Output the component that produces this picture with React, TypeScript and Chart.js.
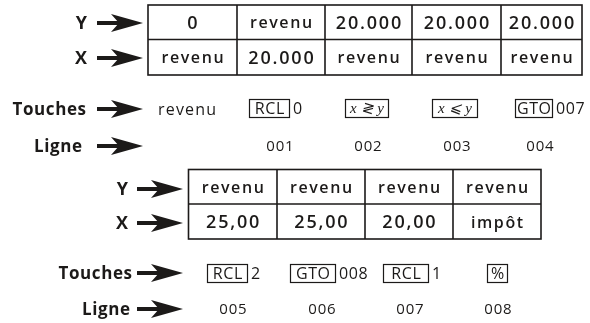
import React, { useEffect, useRef } from "react";
import { Chart, registerables } from "chart.js";

Chart.register(...registerables);

// ---- data ----
const stackY1 = ["0", "revenu", "20.000", "20.000", "20.000"];
const stackX1 = ["revenu", "20.000", "revenu", "revenu", "revenu"];
const touchesKeys1 = ["RCL", "x ≷ y", "x ⩽ y", "GTO"];
const touchesArgs1 = ["0", "", "", "007"];
const touchesStart1 = "revenu";
const lignes1 = ["001", "002", "003", "004"];

const stackY2 = ["revenu", "revenu", "revenu", "revenu"];
const stackX2 = ["25,00", "25,00", "20,00", "impôt"];
const touchesKeys2 = ["RCL", "GTO", "RCL", "%"];
const touchesArgs2 = ["2", "008", "1", ""];
const lignes2 = ["005", "006", "007", "008"];

const rowLabels = ["Y", "X", "Touches", "Ligne"];

// ---- layout (pixel units of the hidden linear scales) ----
const W = 590;
const H = 323;
const INK = "#1c1a19";
const SANS = "'Open Sans', 'Noto Sans', sans-serif";

type Block = {
  labelRight: number[];
  rowY: number[];
  arrowFrom: number;
  arrowTo: number;
  cols: number[];
  tableTop: number;
  tableMid: number;
  tableBottom: number;
  keyBoxes: [number, number][];
  keyTop: number;
  keyBottom: number;
  ligneX: number[];
};

const block1: Block = {
  labelRight: [87, 87, 86, 82],
  rowY: [23, 58, 109, 146],
  arrowFrom: 97,
  arrowTo: 143,
  cols: [148, 237, 325, 412, 501, 582],
  tableTop: 5,
  tableMid: 39.5,
  tableBottom: 75,
  keyBoxes: [
    [249, 289],
    [345, 388],
    [432, 477],
    [515, 552],
  ],
  keyTop: 99.5,
  keyBottom: 117.5,
  ligneX: [280, 368, 457, 540],
};

const block2: Block = {
  labelRight: [128, 128, 132, 130],
  rowY: [189, 223, 273, 309],
  arrowFrom: 137,
  arrowTo: 183,
  cols: [188.5, 277, 365, 453, 541],
  tableTop: 169.5,
  tableMid: 204,
  tableBottom: 239,
  keyBoxes: [
    [207, 247],
    [290, 335],
    [383, 428],
    [487, 507],
  ],
  keyTop: 264.5,
  keyBottom: 282.5,
  ligneX: [233, 322, 410, 498],
};

function drawArrow(ctx: CanvasRenderingContext2D, x0: number, x1: number, y: number) {
  ctx.fillStyle = INK;
  ctx.fillRect(x0, y - 2, x1 - x0 - 24, 4);
  ctx.beginPath();
  ctx.moveTo(x1, y);
  ctx.lineTo(x1 - 32, y - 9);
  ctx.lineTo(x1 - 24, y);
  ctx.lineTo(x1 - 32, y + 9);
  ctx.closePath();
  ctx.fill();
}

function text(
  ctx: CanvasRenderingContext2D,
  s: string,
  x: number,
  y: number,
  font: string,
  align: CanvasTextAlign,
  spacing = 0
) {
  ctx.font = font;
  (ctx as any).letterSpacing = spacing + "px";
  ctx.textAlign = align;
  ctx.textBaseline = "middle";
  ctx.fillStyle = INK;
  let dx = 0;
  if (align === "center") dx = spacing / 2;
  else if (align === "right") dx = spacing;
  ctx.fillText(s, x + dx, y);
  (ctx as any).letterSpacing = "0px";
}

function drawBlock(
  chart: any,
  b: Block,
  ys: string[],
  xs: string[],
  keys: string[],
  args: string[],
  lignes: string[],
  start: string | null
) {
  const ctx: CanvasRenderingContext2D = chart.ctx;
  const sx = chart.scales.x;
  const sy = chart.scales.y;
  const px = (v: number) => sx.getPixelForValue(v);
  const py = (v: number) => sy.getPixelForValue(v);

  // row labels + arrows
  rowLabels.forEach((lab, i) => {
    const size = i < 2 ? 18 : 17;
    text(ctx, lab, px(b.labelRight[i]), py(b.rowY[i]) + 1, `700 ${size}px ${SANS}`, "right", i < 2 ? 0 : 0.6);
    drawArrow(ctx, px(b.arrowFrom), px(b.arrowTo), py(b.rowY[i]));
  });

  // table
  ctx.strokeStyle = INK;
  ctx.lineWidth = 1.6;
  const left = px(b.cols[0]);
  const right = px(b.cols[b.cols.length - 1]);
  ctx.strokeRect(left, py(b.tableTop), right - left, py(b.tableBottom) - py(b.tableTop));
  ctx.beginPath();
  ctx.moveTo(left, py(b.tableMid));
  ctx.lineTo(right, py(b.tableMid));
  for (let i = 1; i < b.cols.length - 1; i++) {
    ctx.moveTo(px(b.cols[i]), py(b.tableTop));
    ctx.lineTo(px(b.cols[i]), py(b.tableBottom));
  }
  ctx.stroke();

  const cell = (s: string, ci: number, rowTop: number, rowBot: number) => {
    const cx = (px(b.cols[ci]) + px(b.cols[ci + 1])) / 2;
    const cy = (py(rowTop) + py(rowBot)) / 2 + 1.5;
    const numeric = /\d/.test(s);
    const font = numeric ? `600 18px ${SANS}` : `600 16px ${SANS}`;
    text(ctx, s, cx, cy, font, "center", numeric ? 1.8 : 1.6);
  };
  ys.forEach((s, i) => cell(s, i, b.tableTop, b.tableMid));
  xs.forEach((s, i) => cell(s, i, b.tableMid, b.tableBottom));

  // touches row
  const ky = py(b.rowY[2]);
  if (start) text(ctx, start, px(158), ky + 1, `400 16px ${SANS}`, "left", 1.2);
  keys.forEach((k, i) => {
    const [x0, x1] = b.keyBoxes[i];
    ctx.lineWidth = 1.2;
    ctx.strokeStyle = INK;
    ctx.strokeRect(px(x0) + 0.5, py(b.keyTop), px(x1) - px(x0), py(b.keyBottom) - py(b.keyTop));
    const cx = (px(x0) + px(x1)) / 2 + 0.5;
    const cy = (py(b.keyTop) + py(b.keyBottom)) / 2 + 1;
    if (k.startsWith("x")) {
      text(ctx, k, cx, cy, `italic 400 15px 'Liberation Serif', 'DejaVu Serif', serif`, "center", 0);
    } else {
      text(ctx, k, cx, cy, `400 16px ${SANS}`, "center", 0.6);
    }
    if (args[i]) text(ctx, args[i], px(x1) + 4, cy, `400 16px ${SANS}`, "left", 0.6);
  });

  // ligne row
  lignes.forEach((l, i) => {
    text(ctx, l, px(b.ligneX[i]), py(b.rowY[3]) + 1, `400 15px ${SANS}`, "center", 0.8);
  });
}

const diagramPlugin = {
  id: "stackDiagram",
  afterDraw(chart: any) {
    const ctx = chart.ctx;
    ctx.save();
    drawBlock(chart, block1, stackY1, stackX1, touchesKeys1, touchesArgs1, lignes1, touchesStart1);
    drawBlock(chart, block2, stackY2, stackX2, touchesKeys2, touchesArgs2, lignes2, null);
    ctx.restore();
  },
};

export default function App() {
  const ref = useRef<HTMLCanvasElement | null>(null);
  useEffect(() => {
    if (!ref.current) return;
    const chart = new Chart(ref.current, {
      type: "scatter",
      data: { datasets: [{ data: [], pointRadius: 0 }] },
      options: {
        animation: false,
        responsive: false,
        devicePixelRatio: 1,
        layout: { padding: 0 },
        plugins: { legend: { display: false }, tooltip: { enabled: false } },
        scales: {
          x: { type: "linear", min: 0, max: W, display: false },
          y: { type: "linear", min: 0, max: H, reverse: true, display: false },
        },
      },
      plugins: [diagramPlugin],
    });
    return () => chart.destroy();
  }, []);
  return (
    <div style={{ position: "absolute", left: 0, top: 0, width: W, height: H, background: "#fff" }}>
      <canvas ref={ref} width={W} height={H} style={{ display: "block" }} />
    </div>
  );
}
